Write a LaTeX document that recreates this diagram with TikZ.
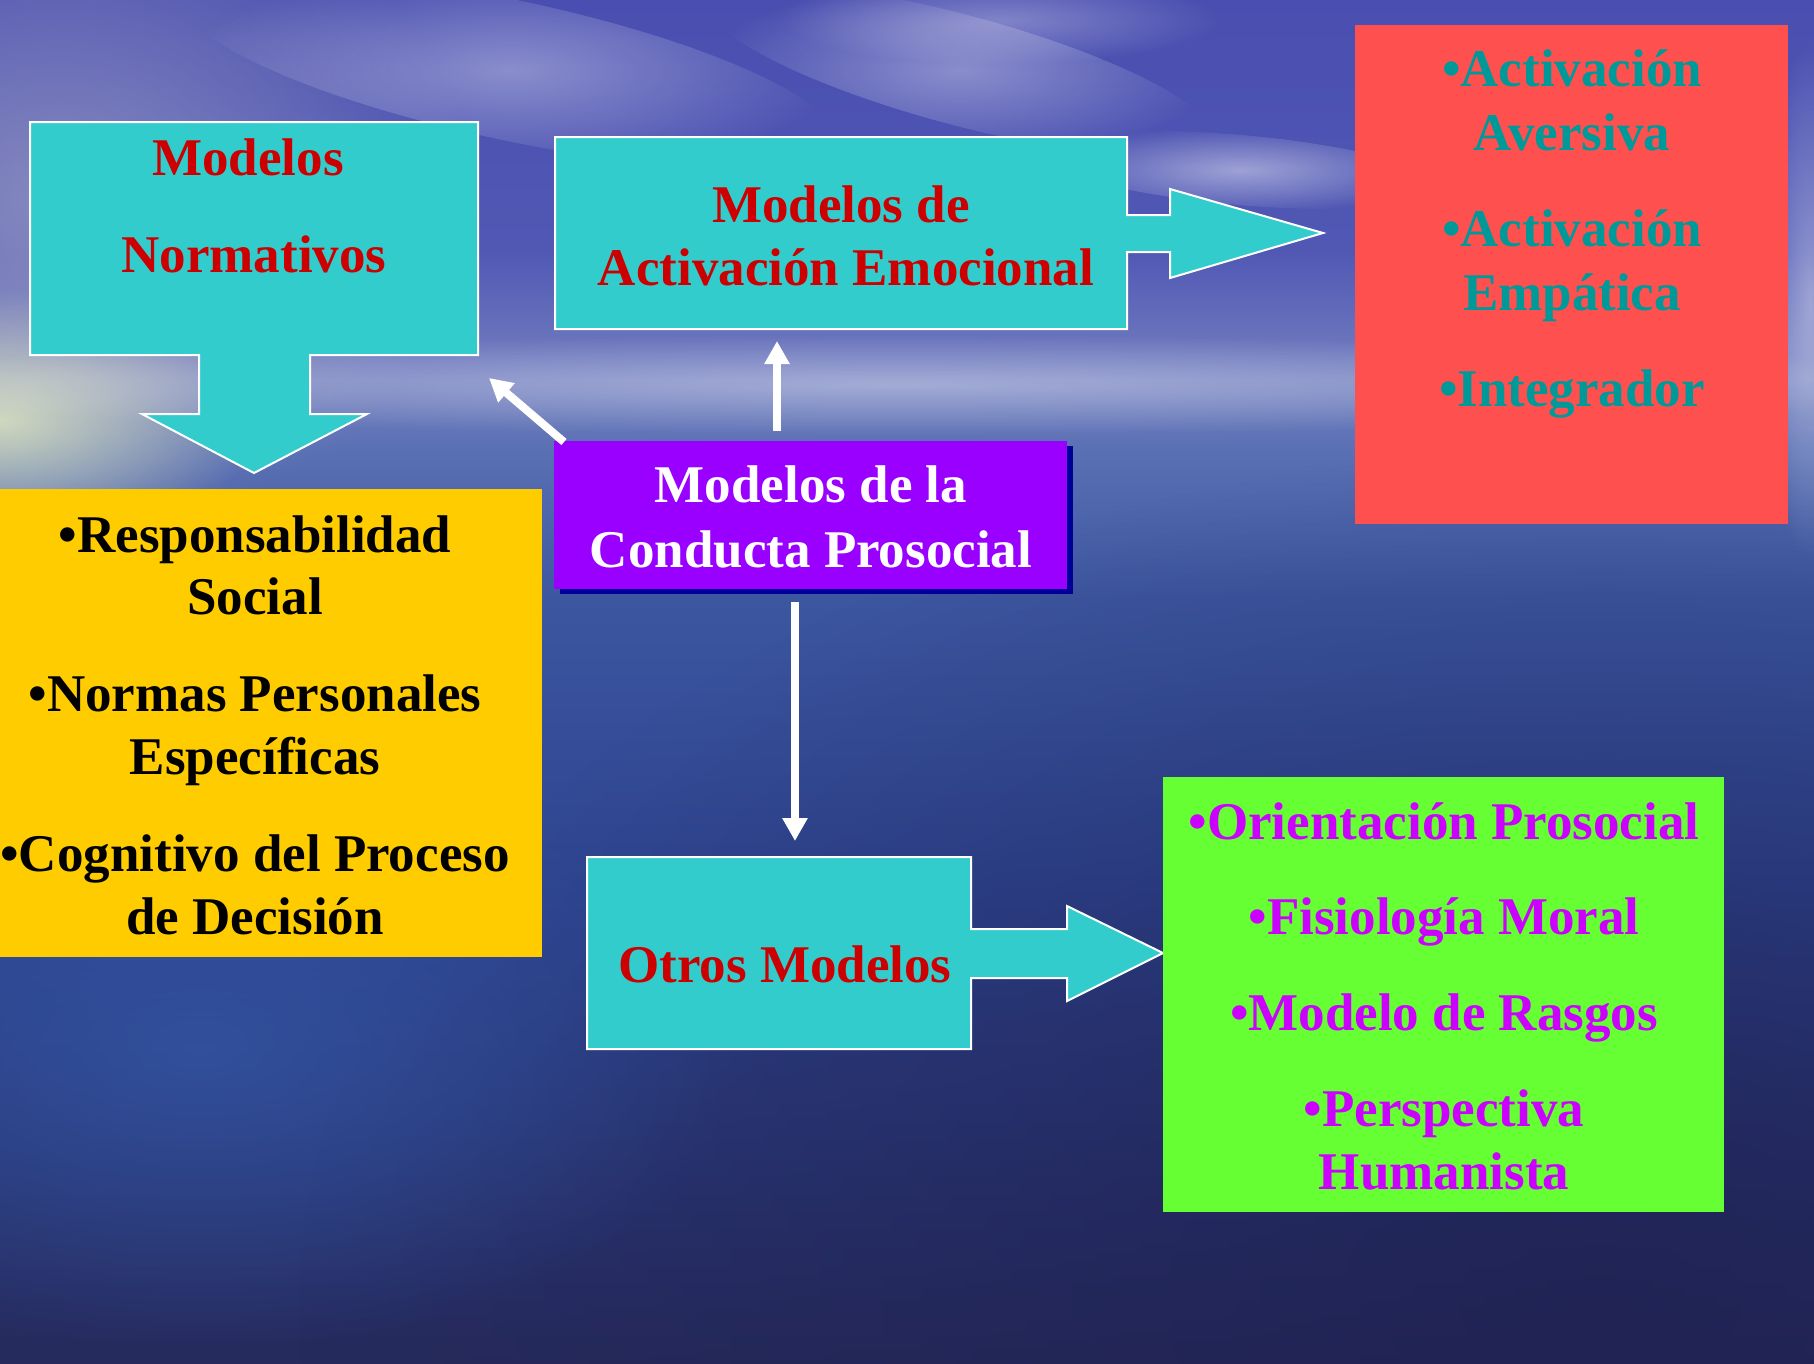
\documentclass[tikz,border=0pt]{standalone}
\usepackage{fontspec}
\setmainfont{Liberation Serif}
\usetikzlibrary{arrows.meta,fadings}
\definecolor{tealc}{HTML}{33CCCC}
\definecolor{redtxt}{HTML}{CC0000}
\definecolor{redbox}{HTML}{FF5050}
\definecolor{tealtxt}{HTML}{009999}
\definecolor{yellowbox}{HTML}{FFCC00}
\definecolor{purplebox}{HTML}{9900FF}
\definecolor{shadowc}{HTML}{000099}
\definecolor{greenbox}{HTML}{66FF33}
\definecolor{magtxt}{HTML}{CC00FF}
\definecolor{bg0}{HTML}{4A4EB0}
\definecolor{bg1}{HTML}{5058B4}
\definecolor{bg2}{HTML}{7480C0}
\definecolor{bg3}{HTML}{5A70B4}
\definecolor{bg4}{HTML}{3C56A0}
\definecolor{bg5}{HTML}{2E4490}
\definecolor{bg6}{HTML}{262A5C}
\definecolor{darksea}{HTML}{1E2050}
\definecolor{bluesea}{HTML}{3458A8}
\definecolor{glow}{HTML}{E6EEC0}
\definecolor{greysky}{HTML}{B4B4C8}
\pgfdeclareverticalshading{skysea}{100bp}{color(0bp)=(bg6); color(25bp)=(bg6); color(42bp)=(bg5); color(53bp)=(bg4); color(58.5bp)=(bg3); color(61.1bp)=(bg2); color(65.8bp)=(bg1); color(75bp)=(bg0); color(100bp)=(bg0)}
\tikzfading[name=softblob, inner color=transparent!0, outer color=transparent!100]
\tikzset{
  lbl/.style={font=\fontsize{53}{63}\selectfont\bfseries, anchor=base, inner sep=0pt},
  tealshape/.style={fill=tealc, draw=white, line width=2pt, line join=miter},
  plainbox/.style={anchor=north west, inner sep=0pt, draw=none},
  warrow/.style={draw=white, line width=8pt, -{Triangle[width=24pt,length=23pt]}},
  cloud/.style={fill=white, path fading=softblob},
}
\begin{document}
\begin{tikzpicture}[x=1pt,y=-1pt]
\useasboundingbox (0,0) rectangle (1814,1363);
% ---------- background ----------
\begin{scope}
\clip (0,0) rectangle (1814,1363);
\shade[shading=skysea] (0,0) rectangle (1814,1363);
\fill[darksea, opacity=0.75, path fading=softblob] (1600,1300) ellipse [x radius=1300, y radius=850];
\fill[bluesea, opacity=0.7, path fading=softblob] (200,1050) ellipse [x radius=550, y radius=300];
\fill[greysky, opacity=0.55, path fading=softblob] (60,200) ellipse [x radius=420, y radius=330];
\fill[glow, opacity=0.8, path fading=softblob] (0,420) ellipse [x radius=260, y radius=130];
\fill[cloud, opacity=0.35, rotate around={-12:(510,70)}] (510,70) ellipse [x radius=330, y radius=70];
\fill[cloud, opacity=0.35, rotate around={-15:(960,70)}] (960,70) ellipse [x radius=260, y radius=55];
\fill[cloud, opacity=0.30] (1000,20) ellipse [x radius=220, y radius=45];
\fill[cloud, opacity=0.45, rotate around={-5:(1240,170)}] (1240,170) ellipse [x radius=200, y radius=35];
\fill[cloud, opacity=0.35] (900,385) ellipse [x radius=1100, y radius=50];
\fill[cloud, opacity=0.40] (1810,300) ellipse [x radius=50, y radius=260];
\end{scope}
% ---------- boxes ----------
\filldraw[tealshape] (30,122) -- (478,122) -- (478,355) -- (310,355) -- (310,414) -- (367,414) -- (254,473) -- (142,414) -- (199,414) -- (199,355) -- (30,355) -- cycle;
\coordinate (norm) at (254,238);
\filldraw[tealshape] (555,137) -- (1127,137) -- (1127,215) -- (1170,215) -- (1170,189) -- (1323,233) -- (1170,278) -- (1170,252) -- (1127,252) -- (1127,329) -- (555,329) -- cycle;
\coordinate (emoc) at (841,233);
\filldraw[tealshape] (587,857) -- (971,857) -- (971,929) -- (1067,929) -- (1067,906) -- (1163,953) -- (1067,1001) -- (1067,978) -- (971,978) -- (971,1049) -- (587,1049) -- cycle;
\coordinate (otros) at (779,953);
\node[plainbox, fill=redbox, minimum width=433pt, minimum height=499pt] (red) at (1355,25) {};
\node[plainbox, fill=yellowbox, minimum width=542pt, minimum height=468pt] (yel) at (0,489) {};
\node[plainbox, fill=greenbox, minimum width=561pt, minimum height=435pt] (grn) at (1163,777) {};
\node[plainbox, fill=shadowc, minimum width=513pt, minimum height=148pt] (pshadow) at (560,446) {};
\node[plainbox, fill=purplebox, minimum width=513pt, minimum height=148pt] (pur) at (554,441) {};
% ---------- texts ----------
\node[lbl, text=redtxt] (t1a) at (248,175) {Modelos};
\node[lbl, text=redtxt] (t1b) at (254,272) {Normativos};
\node[lbl, text=redtxt] (t2a) at (841,222) {Modelos de};
\node[lbl, text=redtxt] (t2b) at (846,285) {Activación Emocional};
\node[lbl, text=tealtxt] (r1) at (1572,86) {•Activación};
\node[lbl, text=tealtxt] (r2) at (1572,150) {Aversiva};
\node[lbl, text=tealtxt] (r3) at (1572,246) {•Activación};
\node[lbl, text=tealtxt] (r4) at (1572,310) {Empática};
\node[lbl, text=tealtxt] (r5) at (1572,406) {•Integrador};
\node[lbl, text=white] (p1) at (811,502) {Modelos de la};
\node[lbl, text=white] (p2) at (811,567) {Conducta Prosocial};
\node[lbl, text=black] (y1) at (255,552) {•Responsabilidad};
\node[lbl, text=black] (y2) at (255,614) {Social};
\node[lbl, text=black] (y3) at (255,711) {•Normas Personales};
\node[lbl, text=black] (y4) at (255,774) {Específicas};
\node[lbl, text=black] (y5) at (255,871) {•Cognitivo del Proceso};
\node[lbl, text=black] (y6) at (255,934) {de Decisión};
\node[lbl, text=redtxt] (o1) at (785,982) {Otros Modelos};
\node[lbl, text=magtxt] (g1) at (1444,839) {•Orientación Prosocial};
\node[lbl, text=magtxt] (g2) at (1444,934) {•Fisiología Moral};
\node[lbl, text=magtxt] (g3) at (1444,1030) {•Modelo de Rasgos};
\node[lbl, text=magtxt] (g4) at (1444,1126) {•Perspectiva};
\node[lbl, text=magtxt] (g5) at (1444,1189) {Humanista};
% ---------- connectors ----------
\coordinate (d1s) at (564,442);
\coordinate (d1e) at (489,378);
\coordinate (u1s) at (777,431);
\coordinate (u1e) at (777,341);
\coordinate (dn1s) at (795,602);
\coordinate (dn1e) at (795,841);
\draw[warrow] (d1s) -- (d1e);
\draw[warrow] (u1s) -- (u1e);
\draw[warrow] (dn1s) -- (dn1e);
\end{tikzpicture}
\end{document}
